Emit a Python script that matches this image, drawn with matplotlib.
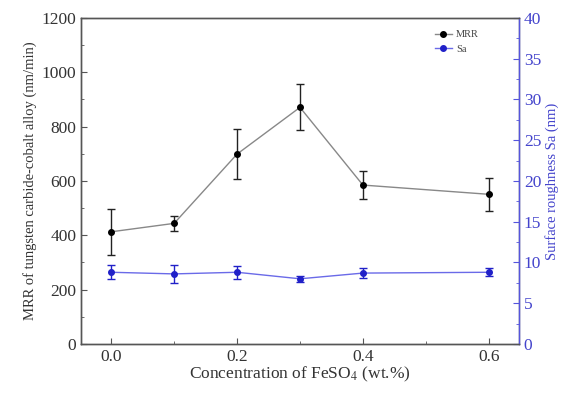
import matplotlib
matplotlib.use("Agg")
import matplotlib.pyplot as plt
from matplotlib.ticker import MultipleLocator, FormatStrFormatter
from matplotlib.lines import Line2D

conc = [0.0, 0.1, 0.2, 0.3, 0.4, 0.6]
mrr = [413, 444, 699, 871, 585, 551]
mrr_err = [85, 28, 92, 85, 52, 60]
sa = [8.8, 8.6, 8.8, 8.0, 8.7, 8.8]
sa_err = [0.86, 1.15, 0.8, 0.4, 0.6, 0.5]

plt.rcParams['font.family'] = ['Liberation Serif', 'DejaVu Serif']
plt.rcParams['mathtext.fontset'] = 'stix'

fig = plt.figure(figsize=(5.69, 3.98), dpi=100)
ax = fig.add_axes([0.1424, 0.1357, 0.7696, 0.8191])
ax2 = ax.twinx()

ax.errorbar(conc, mrr, yerr=mrr_err, color='#888888', lw=1.0,
            marker='o', ms=4, mfc='black', mec='black',
            ecolor='#222222', elinewidth=1.0, capsize=3, capthick=1.0)
ax2.errorbar(conc, sa, yerr=sa_err, color='#6a6ae8', lw=1.0,
             marker='o', ms=4, mfc='#2020c8', mec='#2020c8',
             ecolor='#2020c8', elinewidth=1.0, capsize=3, capthick=1.0)

ax.set_xlim(-0.048, 0.648)
ax.set_ylim(0, 1200)
ax2.set_ylim(0, 40)
ax.xaxis.set_major_locator(MultipleLocator(0.2))
ax.xaxis.set_minor_locator(MultipleLocator(0.1))
ax.yaxis.set_major_locator(MultipleLocator(200))
ax.yaxis.set_minor_locator(MultipleLocator(100))
ax2.yaxis.set_major_locator(MultipleLocator(5))
ax2.yaxis.set_minor_locator(MultipleLocator(2.5))
ax.xaxis.set_major_formatter(FormatStrFormatter('%.1f'))

for a in (ax, ax2):
    for s in a.spines.values():
        s.set_color('#555555')
        s.set_linewidth(1.0)
ax2.spines['right'].set_color('#5555dd')

ax.tick_params(axis='both', which='both', direction='in', colors='#555555',
               labelcolor='#333333', labelsize=12.5)
ax.tick_params(which='major', length=4)
ax.tick_params(which='minor', length=2)
ax2.tick_params(axis='y', which='both', direction='in', colors='#5555dd',
                labelcolor='#4444cc', labelsize=12.5)
ax2.tick_params(which='major', length=4)
ax2.tick_params(which='minor', length=2)

ax.set_xlabel('Concentration of FeSO$_4$ (wt.%)', fontsize=12.5, color='#333333', labelpad=0)
ax.set_ylabel('MRR of tungsten carbide-cobalt alloy (nm/min)', fontsize=10.5, color='#333333', labelpad=3)
ax2.set_ylabel('Surface roughness Sa (nm)', fontsize=10.5, color='#4444cc', labelpad=3)

h1 = Line2D([], [], color='#888888', lw=1.0, marker='o', ms=4, mfc='black', mec='black')
h2 = Line2D([], [], color='#6a6ae8', lw=1.0, marker='o', ms=4, mfc='#2020c8', mec='#2020c8')
leg = ax.legend([h1, h2], ['MRR', 'Sa'], loc='upper right', bbox_to_anchor=(0.925, 0.985),
                frameon=False, fontsize=7.5, handlelength=1.6, handletextpad=0.4,
                labelspacing=0.5, borderpad=0.2)
for t in leg.get_texts():
    t.set_color('#444444')

fig.savefig('out.png', dpi=100)
